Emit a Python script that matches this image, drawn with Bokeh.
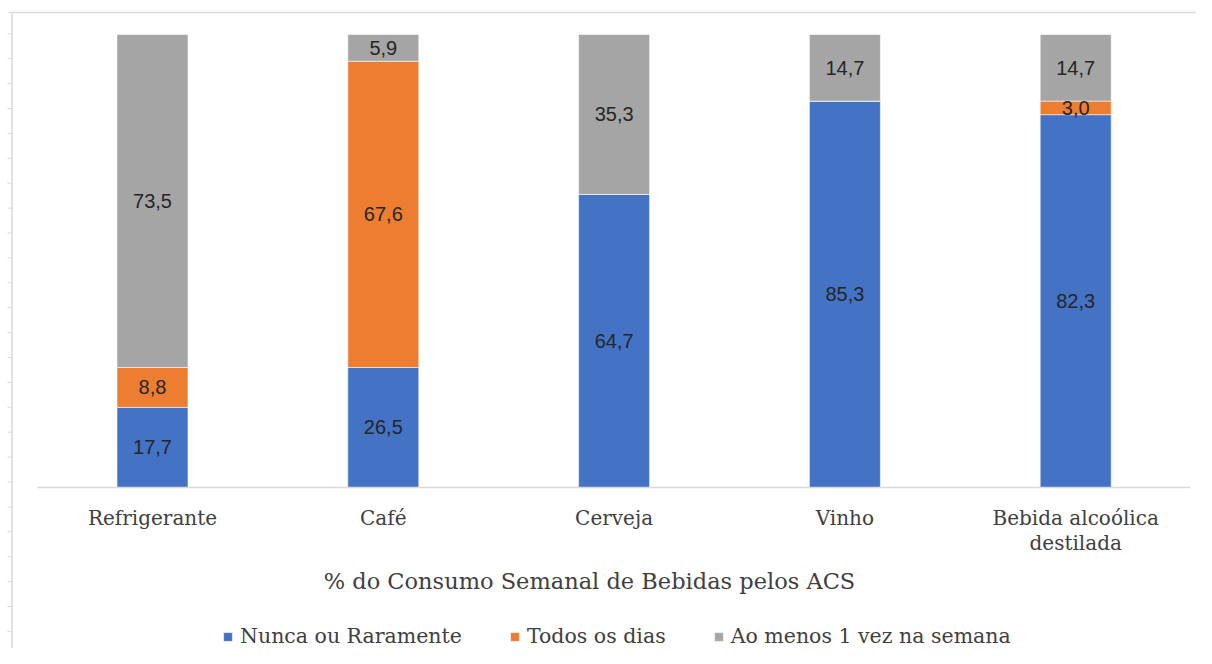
from bokeh.plotting import figure
from bokeh.models import Range1d, ColumnDataSource
from bokeh.core.properties import value
from bokeh.embed import file_html
from bokeh.resources import INLINE
import numpy as np

# ---------------- data ----------------
categories = ["Refrigerante", "Café", "Cerveja", "Vinho", "Bebida alcoólica\ndestilada"]
series = ["Nunca ou Raramente", "Todos os dias", "Ao menos 1 vez na semana"]
nunca = [17.7, 26.5, 64.7, 85.3, 82.3]
todos = [8.8, 67.6, 0.0, 0.0, 3.0]
semana = [73.5, 5.9, 35.3, 14.7, 14.7]
colors = ["#4472C4", "#ED7D31", "#A5A5A5"]
axis_title = "% do Consumo Semanal de Bebidas pelos ACS"

# ---------------- geometry (pixels in figure coords) ----------------
W, H = 1196, 648
cat0_px = 152.0       # centre of first category
cat_step = 230.8      # px per category
base_px = 487.0       # y of 0 %
top_px = 34.0         # y of 100 %
ppu = (base_px - top_px) / 100.0

def X(px):
    return (px - cat0_px) / cat_step

def Y(px):
    return (base_px - px) / ppu

p = figure(width=W, height=H,
           x_range=Range1d(X(0), X(W)), y_range=Range1d(Y(H), Y(0)),
           output_backend="svg", toolbar_location=None, min_border=0,
           x_axis_location=None, y_axis_location=None)
p.grid.visible = False
p.outline_line_color = None
p.background_fill_color = "white"

xs = list(range(len(categories)))
src = ColumnDataSource(dict(x=xs, nunca=nunca, todos=todos, semana=semana))
p.vbar_stack(["nunca", "todos", "semana"], x="x", width=71 / cat_step,
             color=colors, line_color="white", line_width=0.8, line_alpha=0.7,
             source=src, legend_label=series)

# data labels
lx, ly, lt = [], [], []
bottoms = np.zeros(len(categories))
for vals in (nunca, todos, semana):
    for i, v in enumerate(vals):
        if v > 0:
            lx.append(xs[i])
            ly.append(bottoms[i] + v / 2.0)
            lt.append(f"{v:.1f}".replace(".", ","))
    bottoms = bottoms + np.array(vals)
p.text(x=lx, y=ly, text=lt, text_align="center", text_baseline="middle",
       text_font=value("Liberation Sans"), text_font_size="20px", text_color="#262626")

# baseline
p.segment(x0=[X(37)], x1=[X(1190)], y0=[0], y1=[0], line_color="#d9d9d9", line_width=1.5)

# category labels
p.text(x=xs, y=[Y(505)] * len(xs), text=categories, text_align="center",
       text_baseline="top", text_font=value("DejaVu Serif"), text_font_size="20px",
       text_color="#404040", text_line_height=1.08)

# axis title
p.text(x=[X(589)], y=[Y(580)], text=[axis_title], text_align="center",
       text_baseline="middle", text_font=value("DejaVu Serif"), text_font_size="22.5px",
       text_color="#404040")

# page ruler decoration
rx = X(11.5)
p.segment(x0=[rx], x1=[rx], y0=[Y(12)], y1=[Y(H)], line_color="#d9d9d9", line_width=1.5)
p.segment(x0=[X(8)], x1=[X(W)], y0=[Y(12)], y1=[Y(12)], line_color="#d9d9d9", line_width=1.5)
ticks = np.arange(33.3, H, 24.9)
p.segment(x0=[X(7)] * len(ticks), x1=[rx] * len(ticks), y0=[Y(t) for t in ticks],
          y1=[Y(t) for t in ticks], line_color="#d9d9d9", line_width=1)

# legend
lg = p.legend[0]
lg.orientation = "horizontal"
lg.location = (222, 0)
lg.glyph_width = 11
lg.glyph_height = 11
lg.label_standoff = 7
lg.spacing = 47
lg.padding = 0
lg.margin = 0
lg.border_line_color = None
lg.background_fill_alpha = 0
lg.label_text_font = "DejaVu Serif"
lg.label_text_font_size = "20.5px"
lg.label_text_color = "#404040"

open("out.html", "w").write(file_html(p, INLINE))
